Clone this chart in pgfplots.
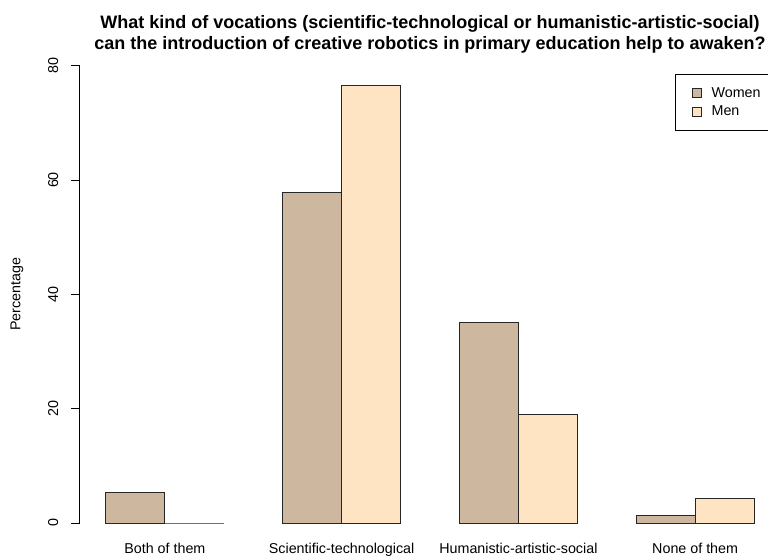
\documentclass[border=0pt]{standalone}
\usepackage{fontspec}
\setmainfont{Liberation Sans}
\usepackage{pgfplots}
\pgfplotsset{compat=1.18}
\definecolor{women}{RGB}{205,183,158}
\definecolor{men}{RGB}{255,228,196}
\begin{document}
\begin{tikzpicture}
\begin{axis}[name=ax, scale only axis, width=700pt, height=493.9pt,
  xmin=0.56, xmax=12.44, ymin=-3.2, ymax=83.2,
  axis lines*=left,
  x axis line style={draw=none},
  y axis line style={line width=1pt, shorten <=18.29pt, shorten >=18.29pt},
  xtick={2,5,8,11},
  xticklabels={Both of them, Scientific-technological, Humanistic-artistic-social, None of them},
  xtick style={draw=none}, x tick label style={anchor=base, yshift=-4pt},
  ytick={0,20,40,60,80},
  tick align=outside, ytick style={line width=1pt, black},
  major tick length=8.6pt,
  yticklabel style={rotate=90, anchor=south, inner sep=0pt},
  yticklabel shift=13pt,
  /pgf/number format/assume math mode=true,
  tick label style={font=\fontsize{14.3}{17}\selectfont},
  clip=false,
  legend style={at={(axis cs:10.66,78.49)}, anchor=north west, draw=black, line width=1pt,
    font=\fontsize{14.3}{17}\selectfont, inner xsep=16pt, inner ysep=11pt, row sep=2.9pt,
    cells={anchor=west},
    /tikz/every odd column/.append style={column sep=8pt}},
  legend cell align=left,
]
\addplot[ybar, bar width=1, bar shift=0pt, fill=women, draw=black!85, line width=1pt,
  legend image code/.code={\draw[fill=women, draw=black!85, line width=1pt] (0pt,-4.5pt) rectangle (9pt,4.5pt);}]
  coordinates {(1.5,5.4) (4.5,57.9) (7.5,35.0) (10.5,1.35)};
\addplot[ybar, bar width=1, bar shift=0pt, fill=men, draw=black!85, line width=1pt,
  legend image code/.code={\draw[fill=men, draw=black!85, line width=1pt] (0pt,-4.5pt) rectangle (9pt,4.5pt);}]
  coordinates {(2.5,0) (5.5,76.5) (8.5,19.0) (11.5,4.25)};
\legend{Women\hspace{20pt}, Men}
\end{axis}
\node[anchor=base, font=\bfseries\fontsize{18}{21}\selectfont] at ([yshift=19.1pt]ax.north) {What kind of vocations (scientific-technological or humanistic-artistic-social)};
\node[anchor=base, font=\bfseries\fontsize{18}{21}\selectfont] at ([yshift=-1.9pt]ax.north) {can the introduction of creative robotics in primary education help to awaken?};
\node[rotate=90, font=\fontsize{14.3}{17}\selectfont] at ([xshift=-63pt]ax.west) {Percentage};
\pgfresetboundingbox
\path ([xshift=-80pt, yshift=-15.7pt]ax.south west) rectangle ([xshift=-12pt, yshift=47.4pt]ax.north east);
\end{tikzpicture}
\end{document}
